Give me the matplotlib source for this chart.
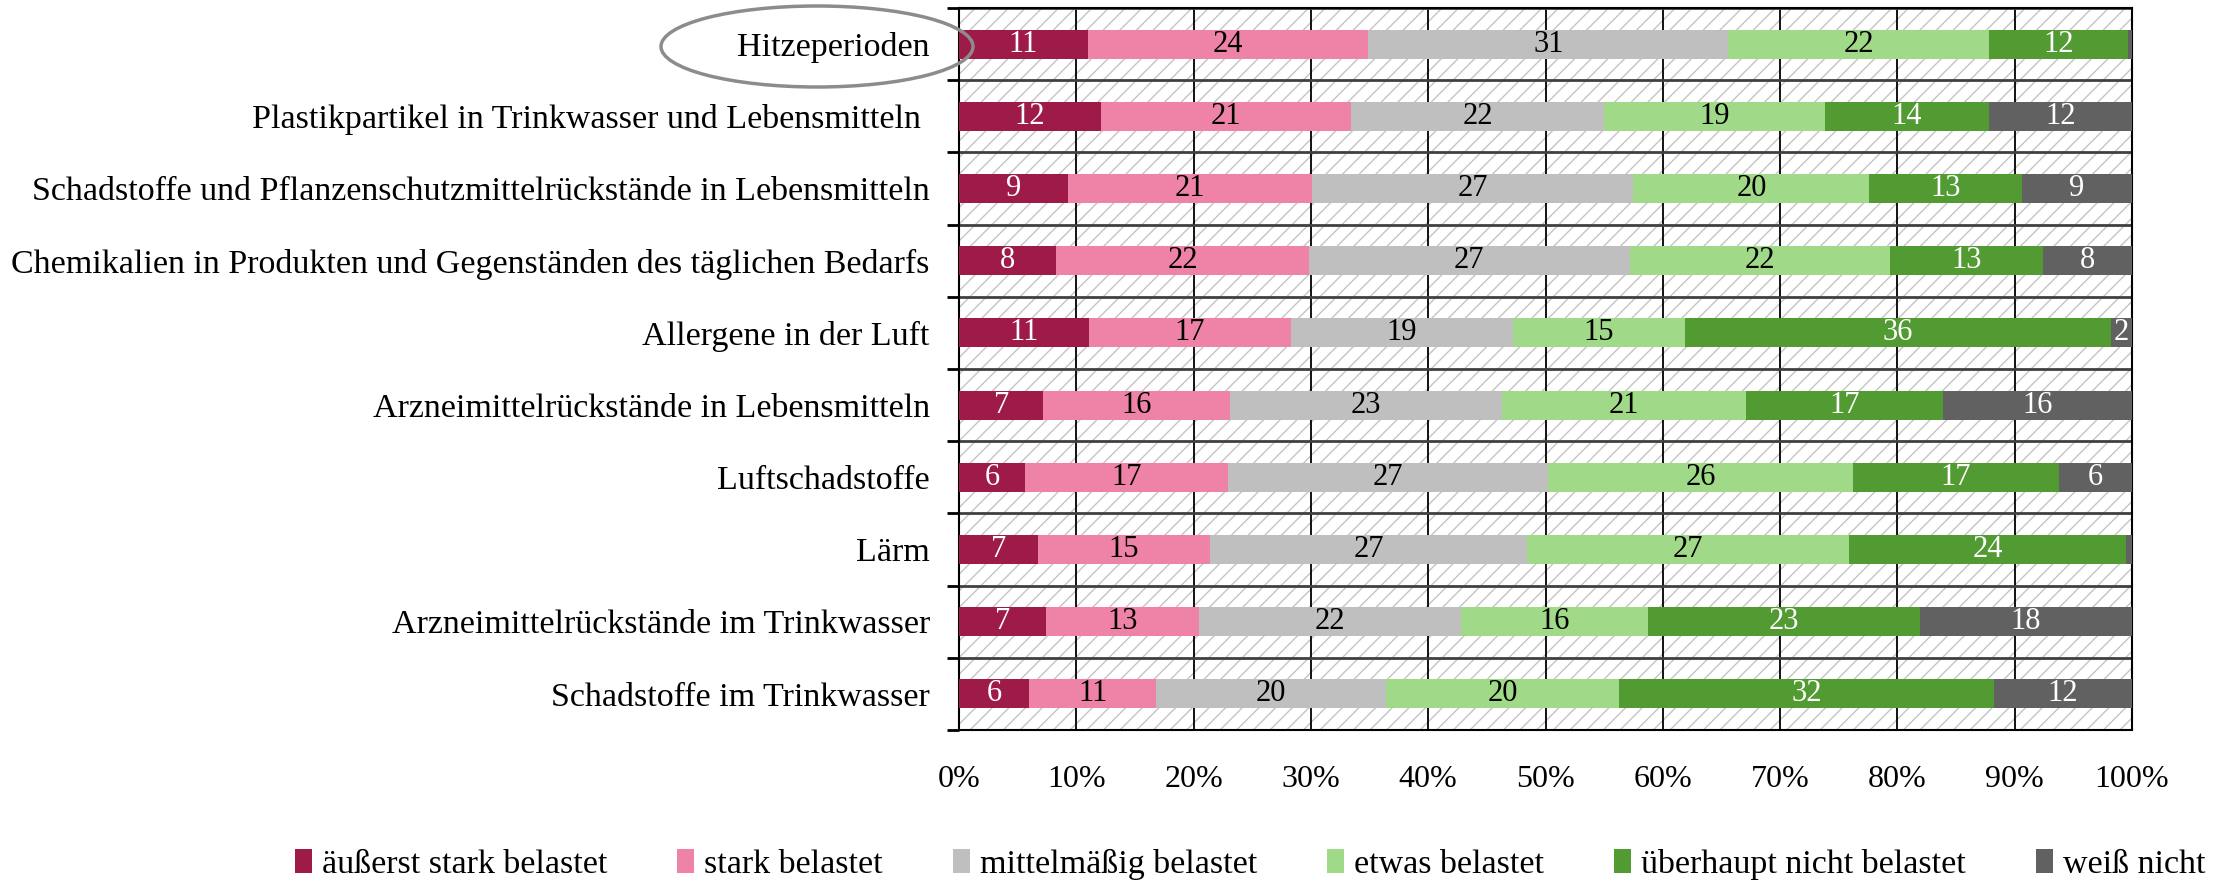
import matplotlib
matplotlib.use('Agg')
import matplotlib.pyplot as plt
from matplotlib.patches import Rectangle, Ellipse

plt.rcParams['font.family'] = 'Liberation Serif'
plt.rcParams['hatch.linewidth'] = 1.0

categories = [
    'Hitzeperioden',
    'Plastikpartikel in Trinkwasser und Lebensmitteln ',
    'Schadstoffe und Pflanzenschutzmittelrückstände in Lebensmitteln',
    'Chemikalien in Produkten und Gegenständen des täglichen Bedarfs',
    'Allergene in der Luft',
    'Arzneimittelrückstände in Lebensmitteln',
    'Luftschadstoffe',
    'Lärm',
    'Arzneimittelrückstände im Trinkwasser',
    'Schadstoffe im Trinkwasser',
]
series = ['äußerst stark belastet', 'stark belastet', 'mittelmäßig belastet',
          'etwas belastet', 'überhaupt nicht belastet', 'weiß nicht']

# bar widths (in %)
aeusserst = [11.0, 12.1, 9.3, 8.3, 11.1, 7.2, 5.6, 6.7, 7.4, 6.0]
stark = [23.9, 21.3, 20.8, 21.5, 17.2, 15.9, 17.3, 14.7, 13.1, 10.8]
mittel = [30.7, 21.6, 27.4, 27.4, 18.9, 23.2, 27.3, 27.0, 22.3, 19.6]
etwas = [22.2, 18.8, 20.1, 22.2, 14.7, 20.8, 26.0, 27.5, 15.9, 19.9]
ueberhaupt = [11.9, 14.0, 13.0, 13.0, 36.3, 16.8, 17.6, 23.6, 23.2, 31.9]
weiss = [0.3, 12.2, 9.4, 7.6, 1.8, 16.1, 6.2, 0.5, 18.1, 11.8]

# printed labels
lab_aeusserst = ['11', '12', '9', '8', '11', '7', '6', '7', '7', '6']
lab_stark = ['24', '21', '21', '22', '17', '16', '17', '15', '13', '11']
lab_mittel = ['31', '22', '27', '27', '19', '23', '27', '27', '22', '20']
lab_etwas = ['22', '19', '20', '22', '15', '21', '26', '27', '16', '20']
lab_ueberhaupt = ['12', '14', '13', '13', '36', '17', '17', '24', '23', '32']
lab_weiss = ['', '12', '9', '8', '2', '16', '6', '', '18', '12']

ticks = [0, 10, 20, 30, 40, 50, 60, 70, 80, 90, 100]
tick_labels = ['%d%%' % t for t in ticks]

colors = ['#9E1A48', '#EE82A7', '#BFBFBF', '#A0DA88', '#529A32', '#616161']
text_colors = ['white', 'black', 'black', 'black', 'white', 'white']

fig = plt.figure(figsize=(22.4, 8.8), dpi=100)
ax = fig.add_axes([959 / 2240, 1 - 730 / 880, (2132 - 959) / 2240, 722 / 880])

# hatched background
ax.add_patch(Rectangle((0, 0), 1, 1, transform=ax.transAxes, facecolor='white',
                       edgecolor='#C4C4C4', hatch='//', lw=0, zorder=0))

y = list(range(len(categories)))
values = [aeusserst, stark, mittel, etwas, ueberhaupt, weiss]
labels = [lab_aeusserst, lab_stark, lab_mittel, lab_etwas, lab_ueberhaupt, lab_weiss]
left = [0] * len(categories)
for name, vals, labs, c, tc in zip(series, values, labels, colors, text_colors):
    bars = ax.barh(y, vals, left=left, height=0.4, color=c, label=name, zorder=3)
    ax.bar_label(bars, labels=labs, label_type='center', color=tc, fontsize=22)
    left = [l + v for l, v in zip(left, vals)]

ax.set_xlim(0, 100)
ax.set_ylim(len(categories) - 0.5, -0.5)
ax.set_xticks(ticks)
ax.set_xticklabels(tick_labels, fontsize=23)
ax.tick_params(axis='x', length=0, pad=25)
ax.set_yticks(y)
ax.set_yticklabels(categories, fontsize=24.5)
ax.set_yticks([i - 0.5 for i in range(len(categories) + 1)], minor=True)
ax.tick_params(axis='y', which='major', length=0, pad=21)
ax.tick_params(axis='y', which='minor', length=9, width=2, direction='out')

ax.xaxis.grid(True, color='black', lw=1.3, zorder=1)
ax.yaxis.grid(True, which='minor', color='#404040', lw=2, zorder=1)
ax.yaxis.grid(False, which='major')
ax.set_axisbelow(True)
for s in ax.spines.values():
    s.set_color('black')
    s.set_linewidth(1.5)

# ellipse round the first label
fig.add_artist(Ellipse((817 / 2240, 1 - 46.5 / 880), 312 / 2240, 81 / 880,
                       transform=fig.transFigure, fill=False, ec='#8C8C8C', lw=2.5, zorder=10))

fig.legend(loc='lower center', bbox_to_anchor=(1250 / 2240, -0.035), ncol=6, frameon=False,
           fontsize=24.5, handlelength=0.5, handleheight=0.7, handletextpad=0.3, columnspacing=2.05)

plt.savefig('out.png', dpi=100)
